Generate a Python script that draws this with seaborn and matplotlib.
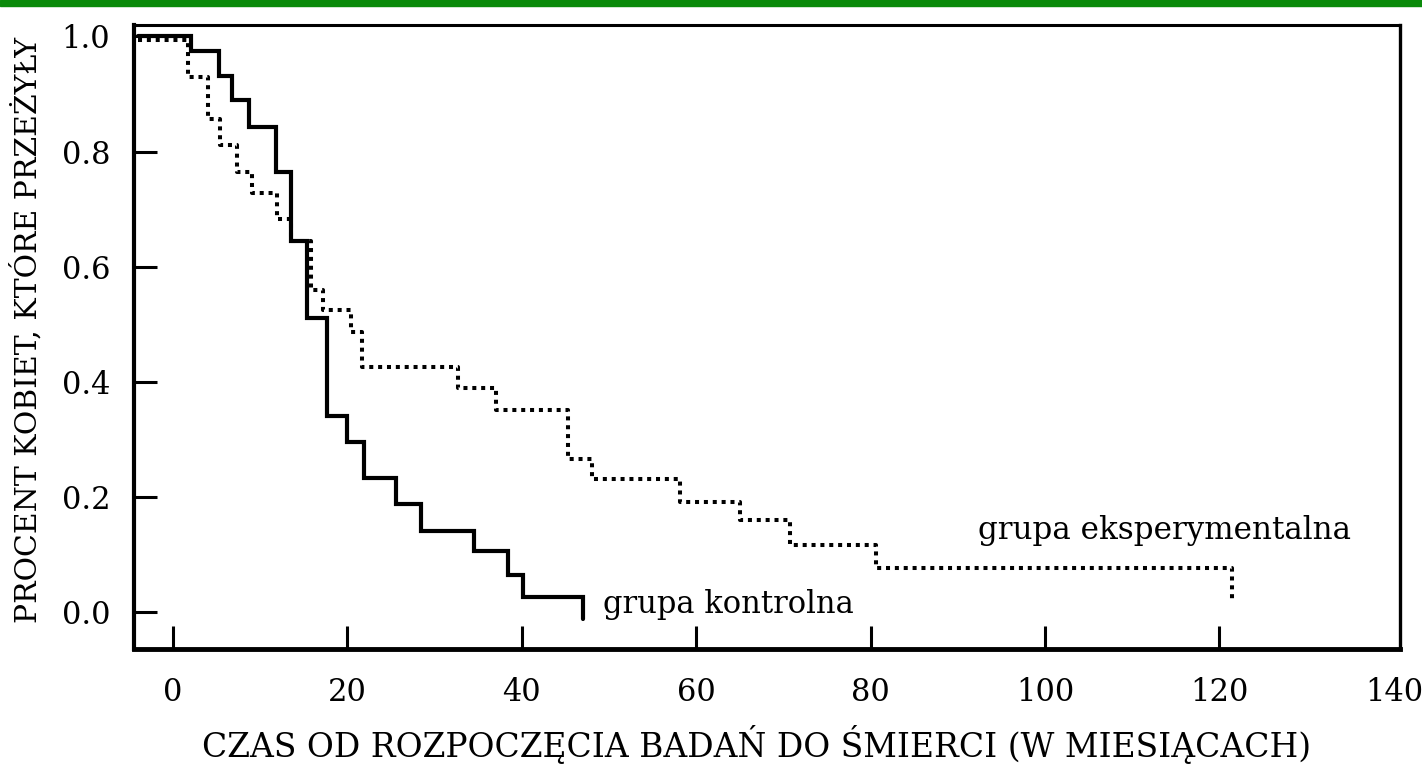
import pandas as pd
import matplotlib.pyplot as plt
import matplotlib.patches as mpatches
import seaborn as sns

# ==========================================
# 1. Data
# ==========================================
CONTROL_T = [-4, 2.1, 5.3, 6.8, 8.75, 11.8, 13.5, 15.4, 17.7, 20.0, 21.9,
             25.6, 28.4, 34.5, 38.4, 40.1, 47.0]
CONTROL_S = [1.0, 0.975, 0.931, 0.89, 0.843, 0.765, 0.645, 0.51, 0.34, 0.295,
             0.233, 0.187, 0.141, 0.105, 0.063, 0.025, -0.012]

EXPER_T = [-4, 1.7, 4.0, 5.4, 7.4, 9.1, 11.9, 13.5, 15.8, 17.2, 20.4, 21.7,
           32.7, 37.1, 45.3, 48.1, 58.1, 65.0, 70.8, 80.6, 121.4]
EXPER_S = [0.993, 0.929, 0.857, 0.811, 0.765, 0.728, 0.683, 0.645, 0.559,
           0.524, 0.487, 0.426, 0.389, 0.351, 0.265, 0.231, 0.19, 0.16, 0.115,
           0.076, 0.02]

X_TICKS = [0, 20, 40, 60, 80, 100, 120, 140]
Y_TICKS = [0.0, 0.2, 0.4, 0.6, 0.8, 1.0]

df_ctrl = pd.DataFrame({"t": CONTROL_T, "s": CONTROL_S})
df_exp = pd.DataFrame({"t": EXPER_T, "s": EXPER_S})

# ==========================================
# 2. Style
# ==========================================
sns.set_style("white")
plt.rcParams["font.family"] = ["DejaVu Serif"]
plt.rcParams["text.color"] = "black"
plt.rcParams["xtick.color"] = "black"
plt.rcParams["ytick.color"] = "black"
plt.rcParams["lines.solid_joinstyle"] = "miter"
plt.rcParams["lines.dash_capstyle"] = "butt"

fig = plt.figure(figsize=(14.22, 7.73), dpi=100)
ax = fig.add_axes([0.0942, 0.1604, 0.8903, 0.8073])

# green bar along the top of the slide
fig.add_artist(mpatches.Rectangle((0, 1 - 6 / 773), 1, 6 / 773,
                                  transform=fig.transFigure,
                                  color="#0a8a0a", zorder=10))

# ==========================================
# 3. Step curves
# ==========================================
sns.lineplot(data=df_ctrl, x="t", y="s", ax=ax, estimator=None, sort=False,
             drawstyle="steps-post", color="black", lw=3.0)
sns.lineplot(data=df_exp, x="t", y="s", ax=ax, estimator=None, sort=False,
             drawstyle="steps-post", color="black", lw=2.9,
             linestyle=(0, (1, 1.2)))

ax.text(49.3, -0.003, "grupa kontrolna", fontsize=22, va="baseline")
ax.text(92.3, 0.126, "grupa eksperymentalna", fontsize=22.3, va="baseline")

# ==========================================
# 4. Axes
# ==========================================
ax.set_xlim(-4.47, 140.7)
ax.set_ylim(-0.065, 1.02)
ax.set_xticks(X_TICKS)
ax.set_yticks(Y_TICKS)
ax.set_xticklabels([str(v) for v in X_TICKS])
ax.set_yticklabels([f"{v:.1f}" for v in Y_TICKS])

ax.tick_params(axis="x", direction="in", length=16.5, width=2.2,
               labelsize=22, pad=20, bottom=True, top=False)
ax.tick_params(axis="y", direction="in", length=16.5, width=2.2,
               labelsize=22, pad=17, left=True, right=False)
# no tick mark at 140, only the label
ax.xaxis.get_major_ticks()[-1].tick1line.set_visible(False)

for side, w in [("left", 3.0), ("bottom", 3.5), ("top", 2.2), ("right", 2.4)]:
    ax.spines[side].set_visible(True)
    ax.spines[side].set_linewidth(w)
    ax.spines[side].set_color("black")

ax.set_xlabel("")
ax.set_ylabel("")
fig.text(0.532, 0.0375, "CZAS OD ROZPOCZĘCIA BADAŃ DO ŚMIERCI (W MIESIĄCACH)",
         fontsize=23.7, ha="center", va="center")
fig.text(0.0185, 1 - 330 / 773, "PROCENT KOBIET, KTÓRE PRZEŻYŁY",
         fontsize=21.5, rotation=90, ha="center", va="center")

plt.savefig("out.png", dpi=100)
